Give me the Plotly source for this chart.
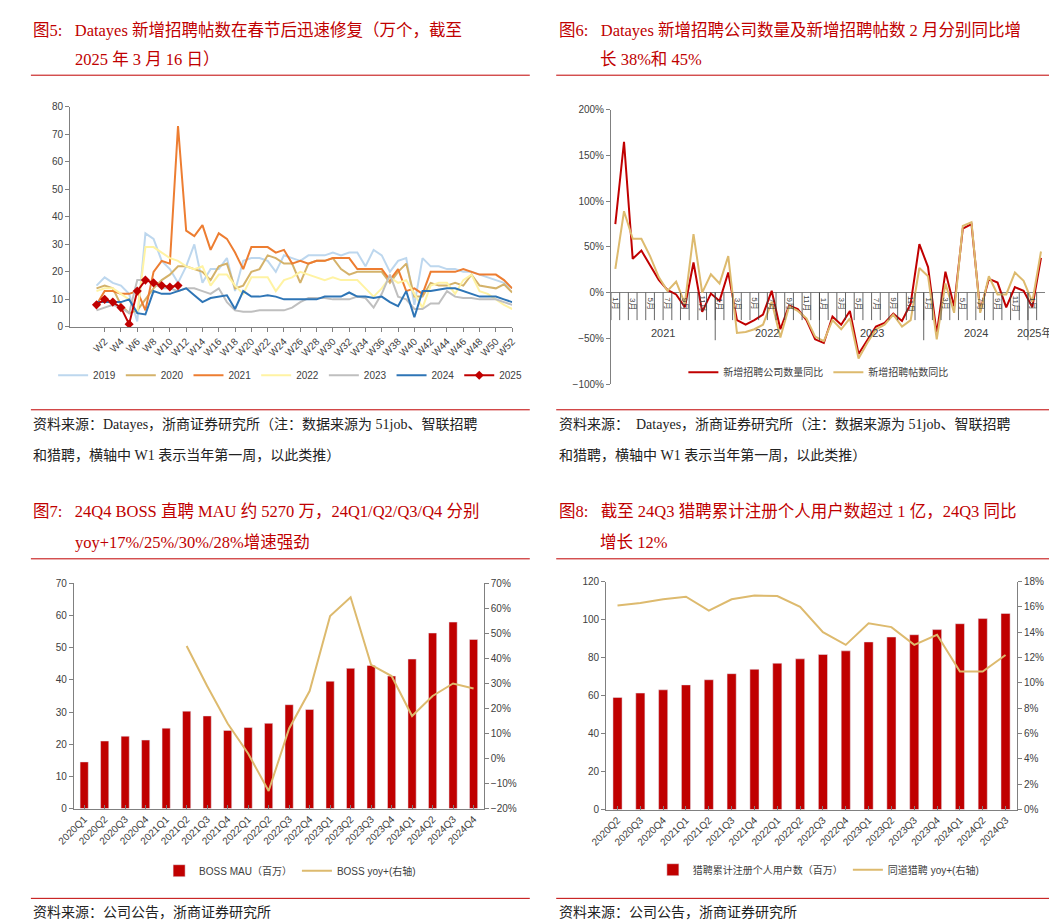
import plotly.graph_objects as go

# ---- panel 1: weekly new job posts (10k) ----
weeks = [f"W{i}" for i in range(1, 53)]
s2019 = [15, 18, 16, 15, 12, 2, 34, 32, 24, 21, 16, 22, 30, 16, 21, 21, 25, 13, 24, 25, 25, 24, 20, 26, 25, 24,
         26, 26, 26, 27, 26, 27, 27, 22, 28, 26, 20, 24, 25, 8, 25, 22, 22, 21, 21, 20, 20, 19, 18, 17, 16, 14]
s2020 = [14, 15, 14, 8, 5, 6, 10, 14, 17, 19, 22, 22, 21, 20, 17, 22, 23, 14, 15, 20, 21, 26, 25, 23, 23, 16,
         23, 24, 24, 25, 21, 19, 20, 20, 20, 20, 16, 20, 23, 11, 11, 16, 15, 15, 16, 15, 19, 15, 14.5, 14, 15.5, 12.5]
s2021 = [8, 13, 13, 12, 12, 13, 6, 20, 24, 23, 73, 35, 33, 37, 28, 34, 32, 27, 21, 29, 29, 29, 27, 28, 23, 24,
         23, 24, 24, 25, 25, 25, 21, 21, 21, 21, 17, 21, 13, 14, 12, 20, 20, 20, 20, 21, 20, 19, 19, 19, 17, 14]
s2022 = [13, 14, 14, 12, 10, 5, 29, 29, 27, 25, 24, 22, 21, 22, 15, 19, 19, 15, 12, 18, 18, 18, 13, 17, 18, 20,
         19, 18, 17, 18, 17, 17, 17, 14, 11, 14, 18, 16, 17, 12, 7, 15, 16, 16, 12, 17, 19, 13, 12, 10, 8, 6.5]
s2023 = [6, 7, 8, 7, 5, 17, 17, 16, 14, 14, 13, 14, 14, 13, 12, 14, 9, 6, 5.5, 5.5, 6, 6, 6, 6, 7, 9, 10.5,
         10.5, 10.5, 10, 10, 10, 11, 10.5, 7, 12, 19, 11, 10, 6.5, 6.5, 8.5, 8.5, 13, 11, 10.5, 10.5, 10, 10, 10, 9, 8]
s2024 = [9, 9, 9, 9, 10, 5, 4.5, 13, 12, 12, 13, 14, 11.5, 9, 10.5, 11, 11.5, 6.5, 13, 11, 11, 11.5, 11, 10, 10,
         10, 10, 10, 11, 11, 11, 12.5, 11, 11, 10.5, 11, 9, 7.5, 13, 3.5, 13, 13, 13.5, 14, 14, 13, 12, 11, 11, 11, 10, 9]
s2025 = [8, 10, 9, 7, 1, 13, 17, 16, 15, 14.5, 15]

# ---- panel 2: monthly yoy ----
years2 = ["2021", "2022", "2023", "2024", "2025"]
months2 = [f"{y}年{m}月" for y in years2 for m in range(1, 13)][:50]
company_yoy = [75, 165, 37, 46, 30, 14, 3, -2, -16, 33, -21, -1, -9, 22, -30, -35, -30, -24, 2, -40, -14, -18,
               -30, -51, -55, -26, -35, -20, -67, -52, -37, -33, -23, -31, -12, 53, 28, -45, 23, -15, 70, 75,
               -20, 15, 11, -16, 6, 2, -16, 38]
posts_yoy = [26, 89, 59, 59, 40, 17, 2, 12, -12, 64, 0, 20, 10, 40, -44, -43, -40, -35, -10, -49, -15, -20,
             -28, -48, -53, -30, -40, -28, -72, -55, -40, -35, -24, -37, -30, 27, 18, -51, 10, -22, 73, 77,
             -22, 18, -2, -2, 22, 13, -10, 45]

# ---- panel 3: BOSS MAU ----
q3 = ["2020Q1", "2020Q2", "2020Q3", "2020Q4", "2021Q1", "2021Q2", "2021Q3", "2021Q4", "2022Q1", "2022Q2",
      "2022Q3", "2022Q4", "2023Q1", "2023Q2", "2023Q3", "2023Q4", "2024Q1", "2024Q2", "2024Q3", "2024Q4"]
boss_mau = [14.5, 21, 22.5, 21.3, 25, 30.3, 28.8, 24.3, 25.2, 26.5, 32.3, 30.8, 39.6, 43.6, 44.5, 41.2,
            46.5, 54.6, 58, 52.6]
boss_yoy = [None, None, None, None, None, 45, 29, 14, 2, -13, 12, 27, 57, 64.5, 37.5, 33, 17, 25, 30, 28]

# ---- panel 4: Liepin users ----
q4 = q3[1:19]
lp_users = [59, 61.3, 63, 65.6, 68.3, 71.5, 73.8, 77, 79.3, 81.6, 83.5, 88.2, 90.8, 92, 94.7, 97.8, 100.5, 103.2]
lp_yoy = [16.1, 16.3, 16.6, 16.8, 15.7, 16.6, 16.9, 16.85, 16.0, 14.0, 13.0, 14.7, 14.4, 13.0, 13.8, 10.9, 10.9, 12.2]

W, H = 1057, 923
def px(x): return x / W
def py(y): return 1 - y / H

RED = "#C00000"
TAN = "#DDBA6E"
AX = dict(showline=True, linecolor="#808080", ticks="outside", ticklen=4, tickcolor="#808080",
          showgrid=False, zeroline=False, tickfont=dict(size=10, color="#404040"))

fig = go.Figure()
series1 = [("2019", s2019, "#BDD7EE"), ("2020", s2020, "#D4B26A"), ("2021", s2021, "#ED7D31"),
           ("2022", s2022, "#FFF3A3"), ("2023", s2023, "#BFBFBF"), ("2024", s2024, "#2E75B6")]
for name, vals, col in series1:
    fig.add_trace(go.Scatter(x=weeks, y=vals, name=name, mode="lines", line=dict(color=col, width=2),
                             xaxis="x", yaxis="y", legend="legend"))
fig.add_trace(go.Scatter(x=weeks[:len(s2025)], y=s2025, name="2025", mode="lines+markers",
                         line=dict(color=RED, width=2), marker=dict(symbol="diamond", size=7, color=RED),
                         xaxis="x", yaxis="y", legend="legend"))

fig.add_trace(go.Scatter(x=months2, y=company_yoy, name="新增招聘公司数量同比", mode="lines",
                         line=dict(color=RED, width=2), xaxis="x2", yaxis="y2", legend="legend2"))
fig.add_trace(go.Scatter(x=months2, y=posts_yoy, name="新增招聘帖数同比", mode="lines",
                         line=dict(color=TAN, width=2), xaxis="x2", yaxis="y2", legend="legend2"))

fig.add_trace(go.Bar(x=q3, y=boss_mau, name="BOSS MAU（百万）", marker_color=RED, width=0.4,
                     xaxis="x3", yaxis="y3", legend="legend3"))
fig.add_trace(go.Scatter(x=q3, y=boss_yoy, name="BOSS yoy+(右轴)", mode="lines",
                         line=dict(color=TAN, width=2), xaxis="x3", yaxis="y5", legend="legend3"))

fig.add_trace(go.Bar(x=q4, y=lp_users, name="猎聘累计注册个人用户数（百万）", marker_color=RED, width=0.4,
                     xaxis="x4", yaxis="y4", legend="legend4"))
fig.add_trace(go.Scatter(x=q4, y=lp_yoy, name="同道猎聘 yoy+(右轴)", mode="lines",
                         line=dict(color=TAN, width=2), xaxis="x4", yaxis="y6", legend="legend4"))

lg = dict(orientation="h", xanchor="center", yanchor="middle", font=dict(size=10, color="#404040"),
          bgcolor="rgba(0,0,0,0)")
fig.update_layout(
    width=W, height=H, margin=dict(l=0, r=0, t=0, b=0), paper_bgcolor="white", plot_bgcolor="white",
    font=dict(family="Liberation Sans, Noto Sans CJK SC"), bargap=0.5,
    xaxis=dict(AX, domain=[px(45), px(497)], anchor="y", tickvals=weeks[1::2], tickangle=-45),
    yaxis=dict(AX, domain=[py(317), py(94)], anchor="x", range=[0, 80], dtick=10),
    xaxis2=dict(AX, type="category", domain=[px(598), px(1042)], anchor="y2", showticklabels=False, ticks="",
                range=[-0.5, 49.5], showline=False),
    yaxis2=dict(AX, domain=[py(375), py(97)], anchor="x2", range=[-100, 200], dtick=50,
                ticksuffix="%", zeroline=True, zerolinecolor="#808080", zerolinewidth=1),
    xaxis3=dict(AX, domain=[px(49), px(468)], anchor="y3", tickangle=-45, ticks="inside"),
    yaxis3=dict(AX, domain=[py(805), py(577)], anchor="x3", range=[0, 70], dtick=10),
    yaxis5=dict(AX, overlaying="y3", side="right", anchor="x3", range=[-20, 70], dtick=10, ticksuffix="%"),
    xaxis4=dict(AX, domain=[px(593), px(1013)], anchor="y4", tickangle=-45, ticks="inside"),
    yaxis4=dict(AX, domain=[py(806), py(575)], anchor="x4", range=[0, 120], dtick=20),
    yaxis6=dict(AX, overlaying="y4", side="right", anchor="x4", range=[0, 18], dtick=2, ticksuffix="%"),
    legend=dict(lg, x=px(270), y=py(366)),
    legend2=dict(lg, x=px(810), y=py(363)),
    legend3=dict(lg, x=px(270), y=py(868)),
    legend4=dict(lg, x=px(810), y=py(867)),
)

# month / year labels for panel 2
for i, m in enumerate(months2):
    mon = int(m.split("年")[1].rstrip("月"))
    if mon % 2 == 1:
        fig.add_annotation(x=i, y=0, xref="x2", yref="y2", text=f"{mon}月", textangle=90, showarrow=False,
                           yshift=-11, font=dict(size=8, color="#404040"))
    fig.add_shape(type="line", xref="x2", yref="y2", x0=i - 0.5, x1=i - 0.5, y0=0, y1=-30,
                  line=dict(color="#404040", width=0.8))
for k, y in enumerate(years2):
    label = y + "年" if y == "2025" else y
    fig.add_annotation(x=5.5 + 12 * k if k < 4 else 48.3, y=-44, xref="x2", yref="y2", text=label,
                       showarrow=False, font=dict(size=11, color="#404040"))
    if 0 < k:
        fig.add_shape(type="line", xref="x2", yref="y2", x0=12 * k - 0.5, x1=12 * k - 0.5, y0=0, y1=-52,
                      line=dict(color="#404040", width=0.8))

TF = dict(family="Liberation Serif, Noto Sans CJK SC", size=16.5, color=RED)
CF = dict(family="Liberation Serif, Noto Sans CJK SC", size=14, color="#222222")
titles = [
    (5, 17, "图5:   Datayes 新增招聘帖数在春节后迅速修复（万个，截至"),
    (48, 46, "2025 年 3 月 16 日）"),
    (543, 17, "图6:   Datayes 新增招聘公司数量及新增招聘帖数 2 月分别同比增"),
    (585, 46, "长 38%和 45%"),
    (5, 504, "图7:   24Q4 BOSS 直聘 MAU 约 5270 万，24Q1/Q2/Q3/Q4 分别"),
    (48, 535, "yoy+17%/25%/30%/28%增速强劲"),
    (543, 504, "图8:   截至 24Q3 猎聘累计注册个人用户数超过 1 亿，24Q3 同比"),
    (585, 535, "增长 12%"),
]
for x, y, t in titles:
    fig.add_annotation(x=px(x), y=py(y), xref="paper", yref="paper", text=t, showarrow=False,
                       xanchor="left", yanchor="middle", font=TF)
captions = [
    (5, 416, "资料来源：Datayes，浙商证券研究所（注：数据来源为 51job、智联招聘"),
    (5, 447, "和猎聘，横轴中 W1 表示当年第一周，以此类推）"),
    (543, 416, "资料来源：  Datayes，浙商证券研究所（注：数据来源为 51job、智联招聘"),
    (543, 447, "和猎聘，横轴中 W1 表示当年第一周，以此类推）"),
    (5, 910, "资料来源：公司公告，浙商证券研究所"),
    (543, 910, "资料来源：公司公告，浙商证券研究所"),
]
for x, y, t in captions:
    fig.add_annotation(x=px(x), y=py(y), xref="paper", yref="paper", text=t, showarrow=False,
                       xanchor="left", yanchor="middle", font=CF)
for x0, x1 in [(5, 515), (542, 1052)]:
    for y in (62, 401, 552, 896):
        fig.add_shape(type="line", xref="paper", yref="paper", x0=px(x0), x1=px(x1), y0=py(y), y1=py(y),
                      line=dict(color=RED, width=1))

fig.write_html("out.html")
